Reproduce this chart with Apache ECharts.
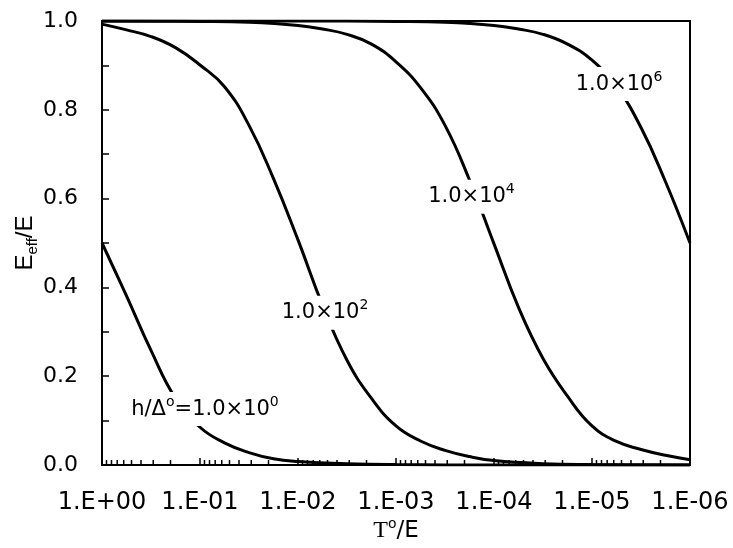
<!DOCTYPE html>
<html>
<head>
<meta charset="utf-8">
<script src="https://cdn.jsdelivr.net/npm/echarts@6/dist/echarts.min.js"></script>
<style>
  html, body { margin: 0; padding: 0; background: #fff; }
  #chart { width: 733px; height: 548px; }
</style>
</head>
<body>
<div id="chart"></div>
<script>
// values: x is log10(T°/E), y is E_eff/E
const exp0 = [0, -0.25, -0.5, -0.75, -1.0, -1.25, -1.5, -1.75, -2.0, -2.5, -3, -4, -5, -6];
const val0 = [0.5, 0.381, 0.258, 0.15, 0.085, 0.05, 0.028, 0.014, 0.008, 0.003, 0.001, 0, 0, 0];

const exp2 = [0, -0.25, -0.5, -0.75, -1.0, -1.25, -1.5, -1.75, -2.0, -2.25, -2.5, -2.75, -3.0, -3.25, -3.5, -3.75, -4.0, -4.5, -5, -6];
const val2 = [0.993, 0.98, 0.965, 0.94, 0.901, 0.852, 0.765, 0.645, 0.507, 0.36, 0.236, 0.15, 0.088, 0.054, 0.033, 0.019, 0.010, 0.003, 0.001, 0];

const exp4 = [0, -1, -1.5, -2.0, -2.25, -2.5, -2.75, -3.0, -3.25, -3.5, -3.75, -4.0, -4.25, -4.5, -4.75, -5.0, -5.25, -5.5, -5.75, -6.0];
const val4 = [1.0, 0.999, 0.997, 0.99, 0.982, 0.97, 0.948, 0.908, 0.85, 0.765, 0.642, 0.498, 0.355, 0.24, 0.155, 0.088, 0.053, 0.035, 0.022, 0.012];

const exp6 = [0, -2, -3, -3.5, -4.0, -4.25, -4.5, -4.75, -5.0, -5.25, -5.5, -5.75, -6.0];
const val6 = [1.0, 1.0, 0.999, 0.997, 0.99, 0.982, 0.97, 0.948, 0.912, 0.852, 0.76, 0.638, 0.5];

// curve labels and where they sit
const labelTexts = [
  '{n|h/Δ}{s|o}{n|=1.0×10}{s|0}',
  '{n|1.0×10}{s|2}',
  '{n|1.0×10}{s|4}',
  '{n|1.0×10}{s|6}'
];
const labelExp = [-1.051, -2.276, -3.77, -5.276];
const labelVal = [0.126, 0.343, 0.604, 0.858];

// minor ticks of the log axis (2..9 in every decade)
const mantissas = [2, 3, 4, 5, 6, 7, 8, 9];
const decades = [1e-6, 1e-5, 1e-4, 1e-3, 1e-2, 1e-1];
const minorTicks = [];
decades.forEach(d => mantissas.forEach(m => minorTicks.push(m * d)));

const SANS = 'DejaVu Sans';
const ARIAL = 'Liberation Sans';

const toPairs = (exps, vals) => exps.map((e, i) => [Math.pow(10, e), vals[i]]);

const labelRich = {
  n: { fontFamily: SANS, fontSize: 21, lineHeight: 28, color: '#000' },
  s: { fontFamily: SANS, fontSize: 14, lineHeight: 14, verticalAlign: 'top', color: '#000' }
};

function curve(data, i) {
  return {
    type: 'line',
    data: data,
    showSymbol: false,
    smooth: 0.45,
    lineStyle: { color: '#000', width: 3 },
    z: 2,
    markPoint: {
      silent: true,
      symbol: 'rect',
      symbolSize: 1,
      itemStyle: { color: 'rgba(0,0,0,0)' },
      label: {
        show: true,
        position: 'inside',
        formatter: labelTexts[i],
        color: '#000',
        backgroundColor: '#fff',
        padding: [3, 2],
        rich: labelRich
      },
      data: [{ coord: [Math.pow(10, labelExp[i]), labelVal[i]] }]
    }
  };
}

function decadeLabel(v) {
  const e = Math.round(Math.log10(v));
  return '1.E' + (e < 0 ? '-' : '+') + String(Math.abs(e)).padStart(2, '0');
}

const chart = echarts.init(document.getElementById('chart'));

chart.setOption({
  animation: false,
  backgroundColor: '#fff',
  grid: {
    left: 102, right: 43, top: 21, bottom: 81,
    show: true, borderColor: '#000', borderWidth: 2, backgroundColor: 'transparent'
  },
  xAxis: {
    type: 'log',
    logBase: 10,
    min: 1e-6,
    max: 1,
    inverse: true,
    interval: 1,
    splitNumber: 6,
    name: '{t|T}{s|o}{m|/E}',
    nameLocation: 'middle',
    nameGap: 52,
    nameMoveOverlap: false,
    nameTextStyle: {
      rich: {
        t: { fontFamily: 'Liberation Serif', fontSize: 24, lineHeight: 28, color: '#000' },
        s: { fontFamily: SANS, fontSize: 14, lineHeight: 14, verticalAlign: 'top', color: '#000' },
        m: { fontFamily: SANS, fontSize: 23, lineHeight: 28, color: '#000' }
      }
    },
    axisLine: { lineStyle: { color: '#000', width: 2 } },
    axisTick: { inside: true, length: 7, lineStyle: { color: '#000', width: 1.5 } },
    axisLabel: {
      formatter: decadeLabel,
      color: '#000',
      fontFamily: SANS,
      fontSize: 24,
      margin: 26,
      showMinLabel: true,
      showMaxLabel: true
    },
    splitLine: { show: false }
  },
  yAxis: {
    type: 'value',
    min: 0,
    max: 1,
    interval: 0.1,
    name: '{m|E}{b|eff}{m|/E}',
    nameLocation: 'middle',
    nameGap: 62,
    nameMoveOverlap: false,
    nameTextStyle: {
      rich: {
        m: { fontFamily: ARIAL, fontSize: 24, lineHeight: 30, color: '#000' },
        b: { fontFamily: ARIAL, fontSize: 15, lineHeight: 15, verticalAlign: 'bottom', color: '#000' }
      }
    },
    axisLine: { show: true, lineStyle: { color: '#000', width: 2 } },
    axisTick: { inside: true, length: 7, lineStyle: { color: '#000', width: 1.5 } },
    axisLabel: {
      formatter: v => (Math.round(v * 10) % 2 === 0 ? v.toFixed(1) : ''),
      color: '#000',
      fontFamily: SANS,
      fontSize: 22,
      margin: 24
    },
    splitLine: { show: false }
  },
  series: [
    curve(toPairs(exp0, val0), 0),
    curve(toPairs(exp2, val2), 1),
    curve(toPairs(exp4, val4), 2),
    curve(toPairs(exp6, val6), 3),
    {
      type: 'custom',
      silent: true,
      clip: false,
      z: 3,
      data: minorTicks.map(t => [t, 0]),
      encode: { x: 0, y: 1 },
      renderItem: (params, api) => {
        const p = api.coord([api.value(0), 0]);
        return {
          type: 'line',
          shape: { x1: p[0], y1: p[1], x2: p[0], y2: p[1] - 5 },
          style: { stroke: '#000', lineWidth: 1.5 }
        };
      }
    }
  ]
});
</script>
</body>
</html>
